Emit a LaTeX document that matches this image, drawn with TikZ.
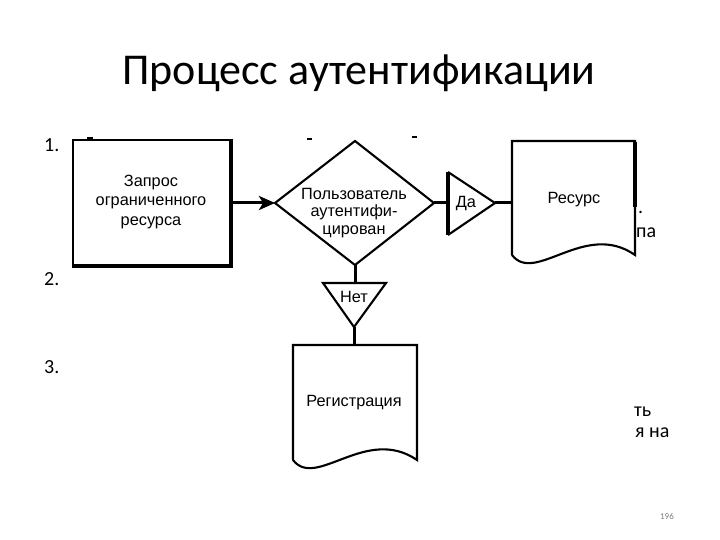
\documentclass[tikz,border=0pt]{standalone}
\usepackage{fontspec}
\setmainfont{Carlito}
\newfontfamily\chartfont{Liberation Sans}
\usetikzlibrary{arrows.meta}
\tikzset{
  chartline/.style={line width=2.1pt, line join=miter},
  thickline/.style={line width=3.2pt},
  conn/.style={line width=3pt},
  charttext/.style={font=\chartfont\fontsize{16.3}{19.5}\selectfont, align=center, inner sep=0pt},
  bodytext/.style={font=\fontsize{20}{24}\selectfont, inner sep=0pt},
}
\begin{document}
\begin{tikzpicture}[x=1pt,y=-1pt]
\useasboundingbox[fill=white] (0,0) rectangle (720,540);
% title
\node[font=\fontsize{44}{52}\selectfont, inner sep=0pt, anchor=base] (title) at (359,85) {Процесс аутентификации};
% numbers
\node[bodytext, anchor=base west] (n1) at (44,152) {1.};
\node[bodytext, anchor=base west] (n2) at (44,285) {2.};
\node[bodytext, anchor=base west] (n3) at (44,373) {3.};
% fragments of hidden text
\node[bodytext, anchor=base west] (f1) at (638,214) {.};
\node[bodytext, anchor=base west] (f2) at (636,237) {па};
\node[bodytext, anchor=base west] (f3) at (634,416) {ть};
\node[bodytext, anchor=base west] (f4) at (635,437) {я на};
\draw[line width=1.4pt] (87,138) -- (93,138);
\draw[line width=1.4pt] (307,139) -- (312,139);
\draw[line width=1.4pt] (412,137) -- (417,137);
% page number
\node[font=\fontsize{9}{10}\selectfont, text=gray, inner sep=0pt, anchor=base] (pg) at (667,519) {196};

% box 1
\node[draw, chartline, minimum width=157pt, minimum height=125pt, inner sep=0pt] (req) at (151.5,202.5) {};
\node[charttext] (reqt) at (151,202) {Запрос\\ограниченного\\ресурса};
\draw[thickline] (req.north east) -- (req.south east) -- (req.south west);

% diamond
\coordinate (dL) at (275,203);
\coordinate (dT) at (355,141);
\coordinate (dR) at (434,203);
\coordinate (dB) at (355,265);
\draw[chartline] (dL) -- (dT) -- (dR) -- (dB) -- cycle;
\node[charttext, font=\chartfont\fontsize{16.3}{17.5}\selectfont] (dtext) at (354,213) {Пользователь\\аутентифи-\\цирован};

% arrow
\draw[conn, -{Stealth[length=16pt,width=14pt,inset=4pt]}] (req.east |- dL) -- (dL);

% Da triangle
\coordinate (yaW) at (448,203);
\coordinate (yaT) at (448,172);
\coordinate (yaB) at (448,235);
\coordinate (yaA) at (495,203);
\draw[chartline] (yaT) -- (yaA) -- (yaB);
\draw[thickline] (yaT) -- (yaB);
\node[charttext] (yat) at (466,204) {Да};
\draw[conn] (dR) -- (yaW);

% Resource document
\coordinate (resW) at (512,203);
\draw[chartline] (512,255) -- (512,141) -- (635,141) -- (635,255)
  .. controls (585,220) and (535,285) .. (512,255);
\draw[thickline] (635,142) -- (635,207);
\node[charttext] (rest) at (574,200) {Ресурс};
\draw[conn] (yaA) -- (resW);

% Net triangle
\coordinate (noN) at (355,283);
\coordinate (noL) at (323,283);
\coordinate (noR) at (386,283);
\coordinate (noA) at (354,327);
\draw[chartline] (noL) -- (noR) -- (noA) -- cycle;
\node[charttext] (not) at (354,297) {Нет};
\draw[conn] (dB) -- (noN);

% Registration document
\coordinate (regN) at (354,345);
\draw[chartline] (293,460) -- (293,345) -- (417,345) -- (417,460)
  .. controls (366,425) and (316,490) .. (293,460);
\node[charttext] (regt) at (354,403) {Регистрация};
\draw[conn] (noA) -- (regN);
\end{tikzpicture}
\end{document}
